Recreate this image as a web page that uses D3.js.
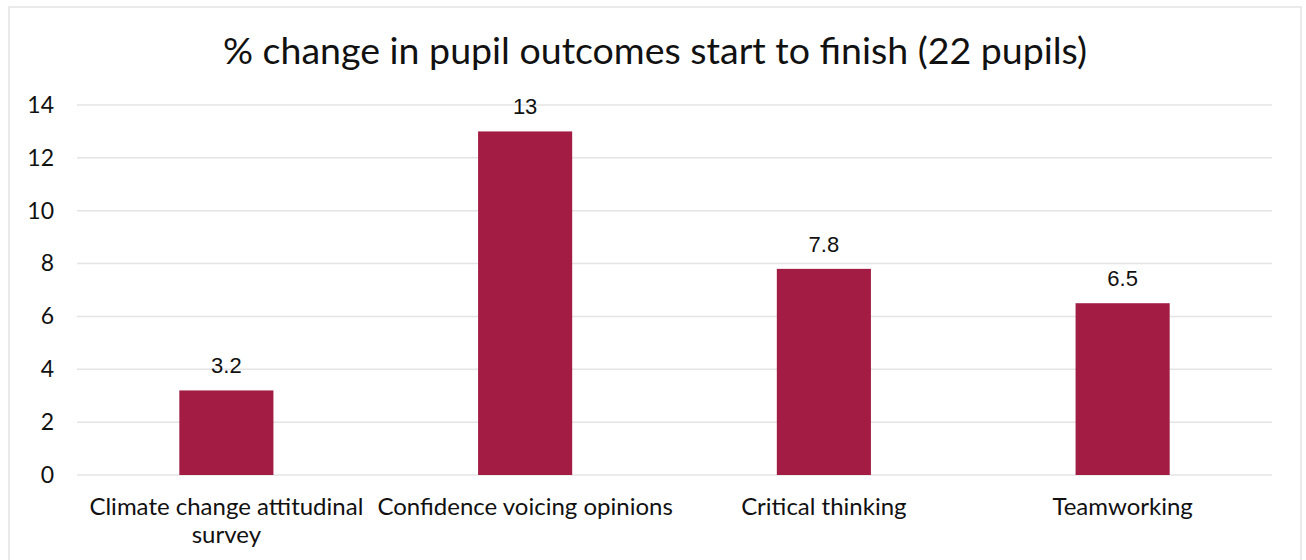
<!DOCTYPE html>
<html>
<head>
<meta charset="utf-8">
<script src="https://cdn.jsdelivr.net/npm/d3@7"></script>
<style>
  html, body { margin: 0; padding: 0; background: #fff; }
  svg { display: block; }
</style>
</head>
<body>
<svg id="chart" width="1306" height="560"></svg>
<script>
const categories = [
  ["Climate change attitudinal", "survey"],
  ["Confidence voicing opinions"],
  ["Critical thinking"],
  ["Teamworking"]
];
const values = [3.2, 13, 7.8, 6.5];
const valueLabels = ["3.2", "13", "7.8", "6.5"];
const yTicks = [0, 2, 4, 6, 8, 10, 12, 14];
const title = "% change in pupil outcomes start to finish (22 pupils)";

const svg = d3.select("#chart");
const W = 1306, H = 560;
const margin = { left: 77, right: 34, top: 105, bottom: 85 };

// chart frame
svg.append("rect")
  .attr("x", 9).attr("y", 7)
  .attr("width", 1292).attr("height", 570)
  .attr("fill", "#fff")
  .attr("stroke", "#e3e3e3").attr("stroke-width", 1.5);

svg.append("text")
  .attr("x", 655).attr("y", 64)
  .attr("text-anchor", "middle")
  .attr("font-family", "Lato, sans-serif")
  .attr("font-size", 37.5)
  .attr("fill", "#111")
  .text(title);

const x = d3.scaleBand()
  .domain(d3.range(categories.length))
  .range([margin.left, W - margin.right])
  .paddingInner(0.685)
  .paddingOuter(0.3425);

const y = d3.scaleLinear()
  .domain([0, 14])
  .range([H - margin.bottom, margin.top]);

// gridlines
svg.append("g")
  .selectAll("line")
  .data(yTicks)
  .join("line")
  .attr("x1", margin.left).attr("x2", W - margin.right)
  .attr("y1", d => y(d)).attr("y2", d => y(d))
  .attr("stroke", "#e4e4e4").attr("stroke-width", 1.5);

// y axis labels
const yAxis = d3.axisLeft(y).tickValues(yTicks).tickSize(0).tickPadding(0);
svg.append("g")
  .attr("transform", `translate(54,0)`)
  .call(yAxis)
  .call(g => g.select(".domain").remove())
  .call(g => g.selectAll("text")
    .attr("font-family", "Lato, sans-serif")
    .attr("font-size", 23)
    .attr("fill", "#111"));

// bars
svg.append("g")
  .selectAll("rect")
  .data(values)
  .join("rect")
  .attr("x", (d, i) => x(i))
  .attr("width", x.bandwidth())
  .attr("y", d => y(d))
  .attr("height", d => y(0) - y(d))
  .attr("fill", "#A31C44");

// value labels
svg.append("g")
  .selectAll("text")
  .data(values)
  .join("text")
  .attr("x", (d, i) => x(i) + x.bandwidth() / 2)
  .attr("y", d => y(d) - 17)
  .attr("text-anchor", "middle")
  .attr("font-family", "'Liberation Sans', Arial, sans-serif")
  .attr("font-size", 22)
  .attr("fill", "#111")
  .text((d, i) => valueLabels[i]);

// category labels
const cat = svg.append("g")
  .selectAll("text")
  .data(categories)
  .join("text")
  .attr("x", (d, i) => x(i) + x.bandwidth() / 2)
  .attr("y", 515)
  .attr("text-anchor", "middle")
  .attr("font-family", "Lato, sans-serif")
  .attr("font-size", 24)
  .attr("fill", "#111");
cat.each(function(lines) {
  const t = d3.select(this);
  const cx = t.attr("x");
  lines.forEach((ln, k) => {
    t.append("tspan").attr("x", cx).attr("dy", k === 0 ? 0 : 28).text(ln);
  });
});
</script>
</body>
</html>
